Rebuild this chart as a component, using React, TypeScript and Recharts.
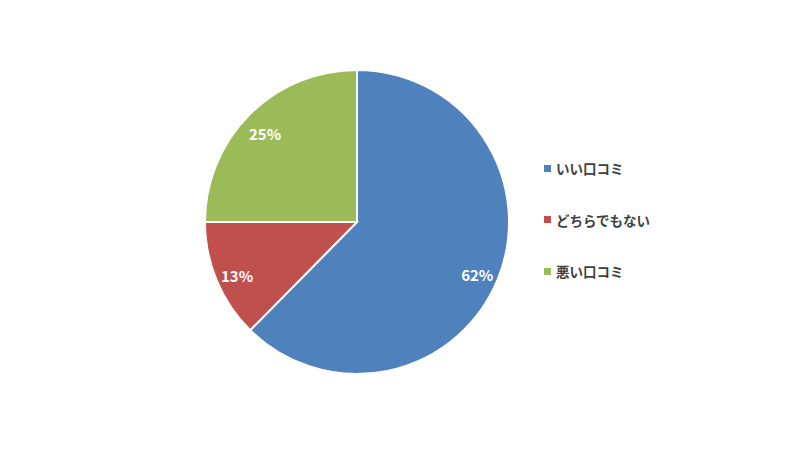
import React from "react";
import { PieChart, Pie, Cell, Legend } from "recharts";

const categories = ["いい口コミ", "どちらでもない", "悪い口コミ"];
const shares = [62.4, 12.6, 25];
const colors = ["#4F81BD", "#C0504D", "#9BBB59"];

const data = categories.map((name, i) => ({ name, value: shares[i] }));

const RADIAN = Math.PI / 180;
const FONT = "'Noto Sans CJK JP', 'Noto Sans', sans-serif";

const renderLabel = (props: any) => {
    const { cx, cy, midAngle, outerRadius, percent } = props;
    const r = outerRadius * 0.855;
    const x = cx + r * Math.cos(-midAngle * RADIAN);
    const y = cy + r * Math.sin(-midAngle * RADIAN) + 3;
    return (
        <text
            x={x}
            y={y}
            fill="#ffffff"
            textAnchor="middle"
            dominantBaseline="central"
            fontSize={15}
            fontWeight="bold"
            fontFamily={FONT}
        >
            {`${Math.round(percent * 100)}%`}
        </text>
    );
};

const renderLegend = () => (
    <div style={{ fontFamily: FONT }}>
        {data.map((d, i) => (
            <div
                key={d.name}
                style={{
                    display: "flex",
                    alignItems: "center",
                    height: 20,
                    marginBottom: i < data.length - 1 ? 31.5 : 0,
                }}
            >
                <span
                    style={{
                        display: "inline-block",
                        width: 7,
                        height: 7,
                        background: colors[i],
                        marginRight: 5,
                    }}
                />
                <span style={{ fontSize: 13.5, fontWeight: "bold", color: "#404040" }}>{d.name}</span>
            </div>
        ))}
    </div>
);

export default function App() {
    return (
        <div style={{ position: "absolute", left: 0, top: 0, width: 800, height: 450, background: "#fff" }}>
            <PieChart width={800} height={450} margin={{ top: 0, right: 0, bottom: 0, left: 0 }}>
                <Pie
                    data={data}
                    dataKey="value"
                    nameKey="name"
                    cx={357}
                    cy={222}
                    outerRadius={152}
                    startAngle={90}
                    endAngle={-270}
                    stroke="#ffffff"
                    strokeWidth={2}
                    label={renderLabel}
                    labelLine={false}
                    isAnimationActive={false}
                >
                    {data.map((d, i) => (
                        <Cell key={d.name} fill={colors[i]} />
                    ))}
                </Pie>
                <Legend
                    content={renderLegend}
                    wrapperStyle={{ position: "absolute", left: 544, top: 158, width: 200 }}
                />
            </PieChart>
        </div>
    );
}
